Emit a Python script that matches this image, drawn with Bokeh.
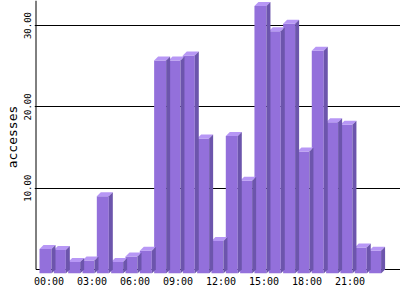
from bokeh.plotting import figure
from bokeh.models import FixedTicker, Range1d, PrintfTickFormatter, ColumnDataSource
from bokeh.embed import file_html
from bokeh.resources import INLINE

# ---- data ----
hours = list(range(24))
accesses = [3.0, 2.9, 1.4, 1.6, 9.5, 1.4, 2.1, 2.8, 26.2, 26.2, 26.8, 16.6,
            4.0, 16.9, 11.4, 32.9, 29.8, 30.7, 15.0, 27.4, 18.6, 18.3, 3.2, 2.8]
tick_hours = [0, 3, 6, 9, 12, 15, 18, 21]
tick_labels = ["00:00", "03:00", "06:00", "09:00", "12:00", "15:00", "18:00", "21:00"]
y_ticks = [10, 20, 30]

# ---- geometry (pixel-based styling) ----
KX = 14.33          # px per hour
KY = 8.133          # px per access
FRAME_W = 366
FRAME_H = 273
hw = 6.0 / KX       # half front width
ox = 4.0 / KX       # 3D depth x
oy = 4.0 / KY       # 3D depth y
lab_off = 0.25

xs0 = -hw - 5.0 / KX
xe0 = xs0 + FRAME_W / KX
ys0 = -oy
ye0 = ys0 + FRAME_H / KY

p = figure(width=400, height=300, output_backend="svg", toolbar_location=None,
           x_range=Range1d(xs0, xe0), y_range=Range1d(ys0, ye0),
           min_border_left=34, min_border_right=0, min_border_top=0,
           min_border_bottom=27)
p.outline_line_color = None
p.background_fill_color = "white"
p.border_fill_color = "white"

p.xgrid.visible = False
p.ygrid.ticker = FixedTicker(ticks=y_ticks)
p.ygrid.grid_line_color = "black"
p.ygrid.grid_line_width = 1

# y axis
p.yaxis.ticker = FixedTicker(ticks=y_ticks)
p.yaxis.formatter = PrintfTickFormatter(format="%.2f")
p.yaxis.axis_line_color = None
p.yaxis.major_tick_line_color = None
p.yaxis.minor_tick_line_color = None
p.yaxis.major_tick_out = 0
p.yaxis.major_tick_in = 0
p.yaxis.minor_tick_out = 0
p.yaxis.major_label_orientation = "vertical"
p.yaxis.major_label_standoff = 3
p.yaxis.major_label_text_font = "DejaVu Sans Mono"
p.yaxis.major_label_text_font_size = "9px"
p.yaxis.major_label_text_font_style = "normal"
p.yaxis.major_label_text_color = "black"
p.yaxis.axis_label = "accesses"
p.yaxis.axis_label_text_font = "DejaVu Sans Mono"
p.yaxis.axis_label_text_font_size = "13px"
p.yaxis.axis_label_text_font_style = "normal"
p.yaxis.axis_label_text_color = "black"
p.yaxis.axis_label_standoff = 2

# x axis
p.xaxis.ticker = FixedTicker(ticks=[h + lab_off for h in tick_hours])
p.xaxis.major_label_overrides = {h + lab_off: l for h, l in zip(tick_hours, tick_labels)}
p.xaxis.axis_line_color = None
p.xaxis.major_tick_line_color = None
p.xaxis.minor_tick_line_color = None
p.xaxis.major_tick_out = 0
p.xaxis.major_tick_in = 0
p.xaxis.minor_tick_out = 0
p.xaxis.major_label_standoff = 2
p.xaxis.major_label_text_font = "DejaVu Sans Mono"
p.xaxis.major_label_text_font_size = "10px"
p.xaxis.major_label_text_font_style = "normal"
p.xaxis.major_label_text_color = "black"

# axis lines
x_axis_px = xs0 + 1.5 / KX
p.segment(x0=[x_axis_px], y0=[0], x1=[x_axis_px], y1=[ye0], line_color="black", line_width=1)
p.segment(x0=[x_axis_px], y0=[0], x1=[xe0], y1=[0], line_color="black", line_width=1)

# 3D bars
front = ColumnDataSource(dict(
    left=[h - hw for h in hours], right=[h + hw for h in hours],
    bottom=[-oy] * len(hours), top=[v - oy for v in accesses]))
p.quad(left="left", right="right", bottom="bottom", top="top", source=front,
       fill_color="#9370DB", line_color=None)

top_xs = [[h - hw, h + hw, h + hw + ox, h - hw + ox] for h in hours]
top_ys = [[v - oy, v - oy, v, v] for v in accesses]
p.patches(top_xs, top_ys, fill_color="#B797F5", line_color=None)

side_xs = [[h + hw, h + hw + ox, h + hw + ox, h + hw] for h in hours]
side_ys = [[-oy, 0, v, v - oy] for v in accesses]
p.patches(side_xs, side_ys, fill_color="#6C55AC", line_color=None)

open("out.html", "w").write(file_html(p, INLINE))
